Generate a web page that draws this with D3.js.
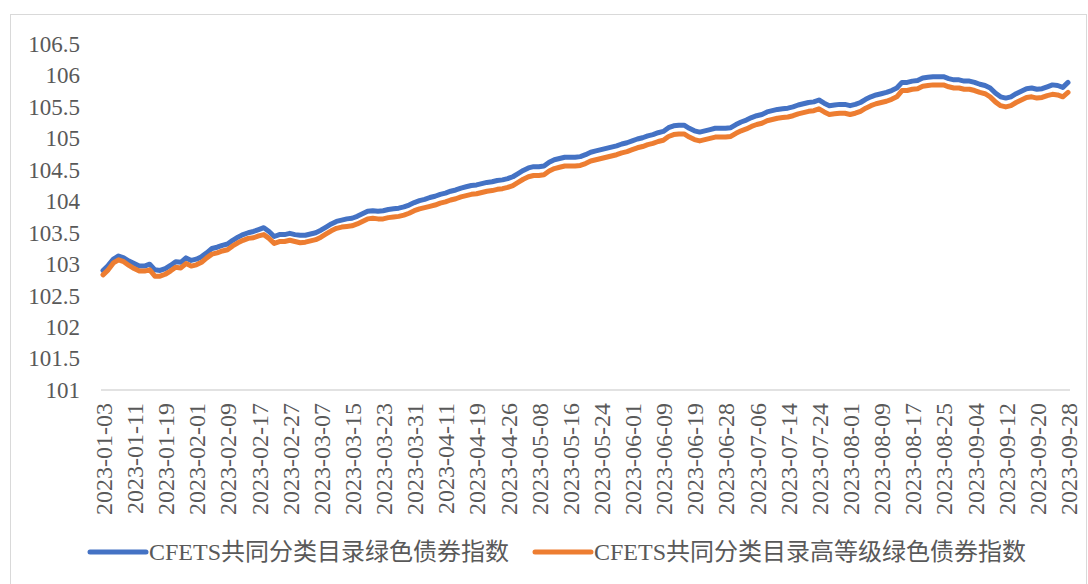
<!DOCTYPE html>
<html>
<head>
<meta charset="utf-8">
<script src="https://cdn.jsdelivr.net/npm/d3@7"></script>
<style>
  body { margin: 0; background: #fff; }
  svg text { font-family: "Liberation Serif", "Noto Sans CJK SC", serif; fill: #595959; }
</style>
</head>
<body>
<svg id="chart"></svg>
<script>
// trading days (interbank), 2023-01-03 .. 2023-09-28
var dates = [
  "2023-01-03","2023-01-04","2023-01-05","2023-01-06","2023-01-09","2023-01-10","2023-01-11","2023-01-12","2023-01-13","2023-01-16",
  "2023-01-17","2023-01-18","2023-01-19","2023-01-20","2023-01-28","2023-01-29","2023-01-30","2023-01-31","2023-02-01","2023-02-02",
  "2023-02-03","2023-02-06","2023-02-07","2023-02-08","2023-02-09","2023-02-10","2023-02-13","2023-02-14","2023-02-15","2023-02-16",
  "2023-02-17","2023-02-20","2023-02-21","2023-02-22","2023-02-23","2023-02-24","2023-02-27","2023-02-28","2023-03-01","2023-03-02",
  "2023-03-03","2023-03-06","2023-03-07","2023-03-08","2023-03-09","2023-03-10","2023-03-13","2023-03-14","2023-03-15","2023-03-16",
  "2023-03-17","2023-03-20","2023-03-21","2023-03-22","2023-03-23","2023-03-24","2023-03-27","2023-03-28","2023-03-29","2023-03-30",
  "2023-03-31","2023-04-03","2023-04-04","2023-04-06","2023-04-07","2023-04-10","2023-04-11","2023-04-12","2023-04-13","2023-04-14",
  "2023-04-17","2023-04-18","2023-04-19","2023-04-20","2023-04-21","2023-04-23","2023-04-24","2023-04-25","2023-04-26","2023-04-27",
  "2023-04-28","2023-05-04","2023-05-05","2023-05-06","2023-05-08","2023-05-09","2023-05-10","2023-05-11","2023-05-12","2023-05-15",
  "2023-05-16","2023-05-17","2023-05-18","2023-05-19","2023-05-22","2023-05-23","2023-05-24","2023-05-25","2023-05-26","2023-05-29",
  "2023-05-30","2023-05-31","2023-06-01","2023-06-02","2023-06-05","2023-06-06","2023-06-07","2023-06-08","2023-06-09","2023-06-12",
  "2023-06-13","2023-06-14","2023-06-15","2023-06-16","2023-06-19","2023-06-20","2023-06-21","2023-06-25","2023-06-26","2023-06-27",
  "2023-06-28","2023-06-29","2023-06-30","2023-07-03","2023-07-04","2023-07-05","2023-07-06","2023-07-07","2023-07-10","2023-07-11",
  "2023-07-12","2023-07-13","2023-07-14","2023-07-17","2023-07-18","2023-07-19","2023-07-20","2023-07-21","2023-07-24","2023-07-25",
  "2023-07-26","2023-07-27","2023-07-28","2023-07-31","2023-08-01","2023-08-02","2023-08-03","2023-08-04","2023-08-07","2023-08-08",
  "2023-08-09","2023-08-10","2023-08-11","2023-08-14","2023-08-15","2023-08-16","2023-08-17","2023-08-18","2023-08-21","2023-08-22",
  "2023-08-23","2023-08-24","2023-08-25","2023-08-28","2023-08-29","2023-08-30","2023-08-31","2023-09-01","2023-09-04","2023-09-05",
  "2023-09-06","2023-09-07","2023-09-08","2023-09-11","2023-09-12","2023-09-13","2023-09-14","2023-09-15","2023-09-18","2023-09-19",
  "2023-09-20","2023-09-21","2023-09-22","2023-09-25","2023-09-26","2023-09-27","2023-09-28"
];

var greenIndex = [
  102.90,102.98,103.08,103.13,103.10,103.05,103.01,102.97,102.97,103.00,
  102.91,102.90,102.93,102.98,103.04,103.03,103.10,103.06,103.08,103.12,
  103.18,103.25,103.27,103.30,103.32,103.38,103.43,103.47,103.50,103.52,
  103.55,103.58,103.52,103.44,103.47,103.47,103.49,103.47,103.46,103.46,
  103.48,103.50,103.54,103.59,103.64,103.68,103.70,103.72,103.73,103.76,
  103.80,103.84,103.85,103.84,103.85,103.87,103.88,103.89,103.91,103.94,
  103.98,104.01,104.03,104.06,104.08,104.11,104.13,104.16,104.18,104.21,
  104.23,104.25,104.26,104.28,104.30,104.31,104.33,104.34,104.36,104.39,
  104.44,104.49,104.53,104.55,104.55,104.56,104.62,104.66,104.68,104.70,
  104.70,104.70,104.71,104.74,104.78,104.80,104.82,104.84,104.86,104.88,
  104.91,104.93,104.96,104.99,105.01,105.04,105.06,105.09,105.11,105.17,
  105.20,105.21,105.21,105.16,105.12,105.10,105.12,105.14,105.16,105.16,
  105.16,105.17,105.22,105.26,105.29,105.33,105.36,105.38,105.42,105.44,
  105.46,105.47,105.48,105.50,105.53,105.55,105.57,105.58,105.61,105.56,
  105.52,105.53,105.54,105.54,105.52,105.54,105.57,105.62,105.66,105.69,
  105.71,105.73,105.76,105.80,105.89,105.89,105.91,105.92,105.96,105.97,
  105.98,105.98,105.98,105.95,105.93,105.93,105.91,105.91,105.89,105.86,
  105.84,105.80,105.72,105.66,105.64,105.66,105.71,105.75,105.79,105.80,
  105.78,105.79,105.82,105.85,105.84,105.81,105.89
];

var highGradeIndex = [
  102.83,102.91,103.02,103.07,103.04,102.98,102.93,102.89,102.89,102.91,
  102.81,102.81,102.84,102.89,102.95,102.94,103.01,102.97,102.99,103.03,
  103.10,103.16,103.18,103.21,103.23,103.29,103.34,103.38,103.41,103.42,
  103.45,103.47,103.41,103.33,103.36,103.36,103.38,103.36,103.34,103.35,
  103.37,103.39,103.43,103.48,103.53,103.57,103.59,103.60,103.61,103.64,
  103.68,103.72,103.73,103.72,103.72,103.74,103.75,103.76,103.78,103.81,
  103.85,103.88,103.90,103.92,103.94,103.97,103.99,104.02,104.04,104.07,
  104.09,104.11,104.12,104.14,104.16,104.17,104.19,104.20,104.22,104.25,
  104.30,104.35,104.39,104.41,104.41,104.42,104.48,104.52,104.54,104.56,
  104.56,104.56,104.57,104.60,104.64,104.66,104.68,104.70,104.72,104.74,
  104.77,104.79,104.82,104.85,104.87,104.90,104.92,104.95,104.97,105.03,
  105.06,105.07,105.07,105.02,104.98,104.96,104.98,105.00,105.02,105.02,
  105.02,105.03,105.08,105.12,105.15,105.19,105.22,105.24,105.28,105.30,
  105.32,105.33,105.34,105.36,105.39,105.41,105.43,105.44,105.47,105.42,
  105.38,105.39,105.40,105.40,105.38,105.40,105.43,105.48,105.52,105.55,
  105.57,105.59,105.62,105.66,105.76,105.76,105.78,105.79,105.83,105.84,
  105.85,105.85,105.85,105.82,105.80,105.80,105.78,105.78,105.76,105.73,
  105.71,105.66,105.58,105.52,105.50,105.52,105.57,105.61,105.65,105.66,
  105.64,105.65,105.68,105.70,105.69,105.66,105.73
];

var seriesNames = ["CFETS共同分类目录绿色债券指数", "CFETS共同分类目录高等级绿色债券指数"];
var seriesColors = ["#4472C4", "#ED7D31"];
var yTicks = [101, 101.5, 102, 102.5, 103, 103.5, 104, 104.5, 105, 105.5, 106, 106.5];

var W = 1088, H = 584;
var margin = { top: 44, left: 103, right: 20, bottom: 194 };

var svg = d3.select("#chart").attr("width", W).attr("height", H);

// chart frame
svg.append("rect")
  .attr("x", 10.5).attr("y", 14.5)
  .attr("width", 1076).attr("height", 580)
  .attr("fill", "none").attr("stroke", "#d9d9d9").attr("stroke-width", 1);

var x = d3.scalePoint()
  .domain(dates)
  .range([margin.left, W - margin.right]);

var y = d3.scaleLinear()
  .domain([101, 106.5])
  .range([H - margin.bottom, margin.top]);

// y axis labels only
var yAxis = d3.axisLeft(y).tickValues(yTicks).tickSize(0).tickPadding(0)
  .tickFormat(function(d){ return d3.format("")(d); });

var gy = svg.append("g")
  .attr("transform", "translate(80,0)")
  .call(yAxis);
gy.select(".domain").remove();
gy.selectAll("text").attr("font-size", 23).attr("fill", "#595959");

// x axis
var xAxis = d3.axisBottom(x)
  .tickValues(dates.filter(function(d, i){ return i % 6 === 0; }))
  .tickSize(0).tickPadding(0);

var gx = svg.append("g")
  .attr("transform", "translate(0," + (H - margin.bottom) + ")")
  .call(xAxis);
gx.select(".domain")
  .attr("d", "M" + (margin.left - 2) + ",0H" + (W - margin.right + 2))
  .attr("stroke", "#d9d9d9").attr("stroke-width", 1.5);
gx.selectAll("text")
  .attr("font-size", 24)
  .attr("fill", "#595959")
  .attr("transform", "rotate(-90)")
  .attr("text-anchor", "end")
  .attr("x", -13)
  .attr("y", 0)
  .attr("dy", "0.35em");

var line = d3.line()
  .x(function(d, i){ return x(dates[i]); })
  .y(function(d){ return y(d); });

[greenIndex, highGradeIndex].forEach(function(s, k) {
  svg.append("path")
    .datum(s)
    .attr("d", line)
    .attr("fill", "none")
    .attr("stroke", seriesColors[k])
    .attr("stroke-width", 5)
    .attr("stroke-linejoin", "round")
    .attr("stroke-linecap", "round");
});

// legend
var legendX = [90, 535];
var legend = svg.append("g");
seriesNames.forEach(function(name, k) {
  var g = legend.append("g").attr("transform", "translate(" + legendX[k] + ",552)");
  g.append("line")
    .attr("x1", 0).attr("x2", 56).attr("y1", 0).attr("y2", 0)
    .attr("stroke", seriesColors[k]).attr("stroke-width", 5)
    .attr("stroke-linecap", "round");
  g.append("text")
    .attr("x", 59).attr("y", 0).attr("dy", "0.35em")
    .attr("font-size", 24)
    .text(name);
});
</script>
</body>
</html>
